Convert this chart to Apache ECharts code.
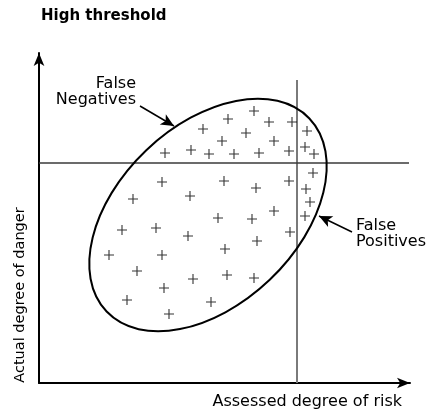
<!DOCTYPE html>
<html>
<head>
<meta charset="utf-8">
<script src="https://cdn.jsdelivr.net/npm/echarts@6/dist/echarts.min.js"></script>
<style>
  html, body { margin: 0; padding: 0; background: #fff; }
  #chart { width: 426px; height: 411px; }
</style>
</head>
<body>
<div id="chart"></div>
<script>
// 数据：单位取自原图，原点在两轴交点
var points = [
    [164, 254], [189, 264], [215, 272], [230, 261], [253, 261], [268, 252],
    [207, 250], [183, 242], [235, 242], [126, 230], [152, 233], [170, 229],
    [195, 229], [220, 230], [250, 232], [266, 236], [275, 229],
    [274, 210], [123, 201], [185, 202], [250, 202], [217, 195], [267, 194],
    [151, 187], [94, 184], [271, 181], [235, 172], [266, 167], [179, 165],
    [213, 164], [83, 153], [117, 155], [149, 147], [251, 151], [218, 142],
    [186, 134], [70, 128], [123, 128], [98, 112], [188, 108], [154, 104],
    [215, 105], [125, 95], [88, 83], [172, 81], [130, 69]
];
// 椭圆：中心、半轴、倾角(度)
var ellipseCenter = [169, 168];
var ellipseRadii = [140, 89.5];
var ellipseAngle = 43.6;
var thresholdX = 258;   // 评估风险阈值
var thresholdY = 220;   // 实际危险阈值
var vLineTop = 303;
var hLineEnd = 370;
var arrowNeg = [[101, 277], [135, 257]];
var arrowPos = [[313, 151], [280, 167]];

var myChart = echarts.init(document.getElementById('chart'));
var font = 'DejaVu Sans';

myChart.setOption({
    animation: false,
    title: {
        text: 'High threshold',
        left: 41,
        top: 9,
        padding: 0,
        textStyle: { fontFamily: font, fontSize: 15, fontWeight: 'bold', color: '#000' }
    },
    grid: { left: 39, right: 16, top: 53, bottom: 28 },
    xAxis: {
        type: 'value', min: 0, max: 371,
        axisLine: {
            lineStyle: { color: '#000', width: 2 },
            symbol: ['none', 'arrow'], symbolSize: [8, 13]
        },
        axisTick: { show: false }, axisLabel: { show: false }, splitLine: { show: false }
    },
    yAxis: {
        type: 'value', min: 0, max: 330,
        axisLine: {
            show: true,
            lineStyle: { color: '#000', width: 2 },
            symbol: ['none', 'arrow'], symbolSize: [8, 13]
        },
        axisTick: { show: false }, axisLabel: { show: false }, splitLine: { show: false }
    },
    graphic: [
        {
            type: 'text', x: 136, y: 92,
            style: { text: 'False\nNegatives', fontFamily: font, fontSize: 16, lineHeight: 16,
                     align: 'right', verticalAlign: 'middle', fill: '#000' }
        },
        {
            type: 'text', x: 356, y: 234,
            style: { text: 'False\nPositives', fontFamily: font, fontSize: 16, lineHeight: 16,
                     align: 'left', verticalAlign: 'middle', fill: '#000' }
        },
        {
            type: 'text', x: 402, y: 402,
            style: { text: 'Assessed degree of risk', fontFamily: font, fontSize: 16,
                     align: 'right', verticalAlign: 'middle', fill: '#000' }
        },
        {
            type: 'text', x: 20, y: 295, rotation: Math.PI / 2,
            style: { text: 'Actual degree of danger', fontFamily: font, fontSize: 14.5,
                     align: 'center', verticalAlign: 'middle', fill: '#000' }
        }
    ],
    series: [
        {
            type: 'line',
            data: [[thresholdX, 0], [thresholdX, vLineTop]],
            symbol: 'none',
            lineStyle: { color: '#7a7a7a', width: 2 },
            z: 1
        },
        {
            type: 'line',
            data: [[0, thresholdY], [hLineEnd, thresholdY]],
            symbol: 'none',
            lineStyle: { color: '#3a3a3a', width: 1.6 },
            z: 1
        },
        {
            type: 'custom',
            data: [ellipseCenter],
            z: 3,
            renderItem: function (params, api) {
                var c = api.coord([api.value(0), api.value(1)]);
                var r = api.size(ellipseRadii, ellipseCenter);
                return {
                    type: 'ellipse',
                    x: c[0], y: c[1],
                    rotation: ellipseAngle * Math.PI / 180,
                    shape: { cx: 0, cy: 0, rx: r[0], ry: r[1] },
                    style: { fill: 'none', stroke: '#000', lineWidth: 2 }
                };
            }
        },
        {
            type: 'scatter',
            data: points,
            symbol: 'path://M0,5L10,5M5,0L5,10',
            symbolSize: 10,
            itemStyle: { color: 'transparent', borderColor: '#000', borderWidth: 1.1 },
            z: 2
        },
        {
            type: 'line',
            data: [],
            markLine: {
                silent: true,
                symbol: ['none', 'arrow'],
                symbolSize: [9, 13],
                label: { show: false },
                lineStyle: { color: '#000', width: 1.5, type: 'solid' },
                data: [
                    [{ coord: arrowNeg[0] }, { coord: arrowNeg[1] }],
                    [{ coord: arrowPos[0] }, { coord: arrowPos[1] }]
                ]
            }
        }
    ]
});
</script>
</body>
</html>
